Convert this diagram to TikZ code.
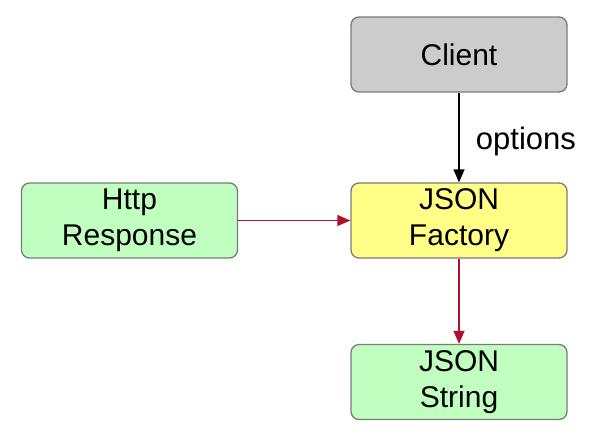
\documentclass[tikz,border=0pt]{standalone}
\usepackage{fontspec}
\setmainfont{Liberation Sans}
\usetikzlibrary{arrows.meta}
\definecolor{boxgray}{HTML}{CCCCCC}
\definecolor{boxyellow}{HTML}{FFFF88}
\definecolor{boxgreen}{HTML}{C0FFC0}
\definecolor{boxline}{HTML}{7A7A7A}
\definecolor{flowred}{HTML}{B0102A}
\tikzset{
  block/.style={rectangle,rounded corners=8pt,draw=boxline,line width=1.3pt,
    minimum width=216pt,minimum height=75pt,align=center,inner sep=0pt,
    font=\fontsize{30}{36}\selectfont},
  flow/.style={-{Triangle[length=13pt,width=11pt]},line width=1.3pt}
}
\begin{document}
\begin{tikzpicture}[x=1pt,y=-1pt]
    \useasboundingbox (0,0) rectangle (594,440);
    \node[block,fill=boxgray] (client) at (459,54.5) {Client};
    \node[block,fill=boxyellow] (factory) at (459,220.5) {JSON\\Factory};
    \node[block,fill=boxgreen] (http) at (129.5,220.5) {Http\\Response};
    \node[block,fill=boxgreen] (string) at (459,382) {JSON\\String};

    \draw[flow] (client)--(factory)
        node[midway,right=13pt,yshift=-4pt,font=\fontsize{31}{36}\selectfont] {options};
    \draw[flow,draw=flowred,fill=flowred] (http)--(factory);
    \draw[flow,draw=flowred,fill=flowred] (factory)--(string);
\end{tikzpicture}
\end{document}
